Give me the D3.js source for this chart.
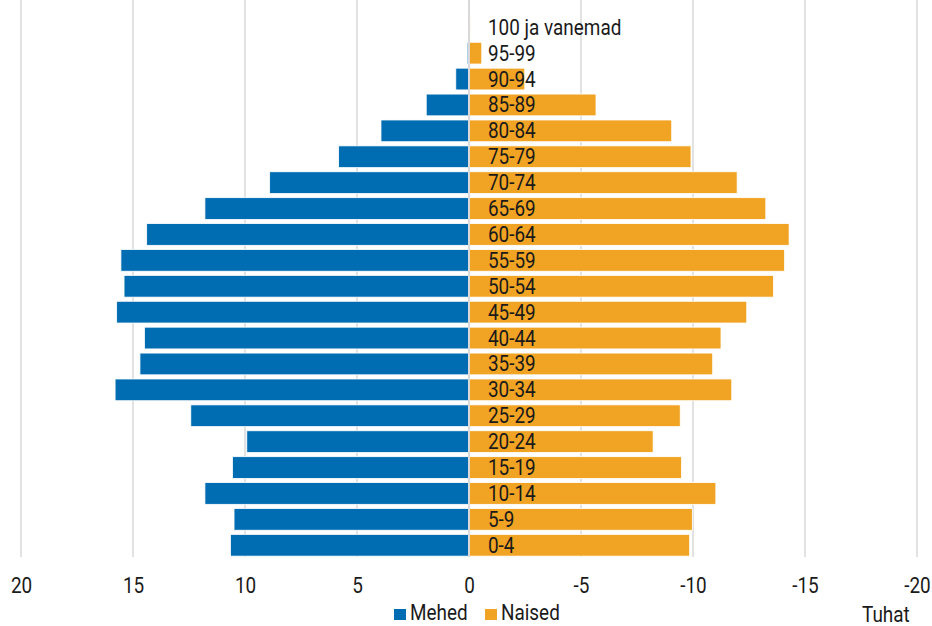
<!DOCTYPE html>
<html>

<head>
    <script src="https://d3js.org/d3.v7.min.js"></script>
    <style>
        body { margin: 0; background: #fff; }
        text { font-family: Roboto, "Noto Sans", sans-serif; fill: #1a1a1a; }
    </style>
</head>

<body>
    <svg id="pyramid" width="932" height="626"></svg>

    <script>
        // vanuserühmad, alt üles
        const ageGroups = ["0-4", "5-9", "10-14", "15-19", "20-24", "25-29", "30-34", "35-39", "40-44",
            "45-49", "50-54", "55-59", "60-64", "65-69", "70-74", "75-79", "80-84", "85-89", "90-94",
            "95-99", "100 ja vanemad"];
        // tuhandetes
        const men = [10.65, 10.49, 11.79, 10.56, 9.92, 12.42, 15.80, 14.69, 14.49,
            15.73, 15.40, 15.54, 14.39, 11.79, 8.90, 5.82, 3.93, 1.91, 0.59,
            0.08, 0.02];
        const women = [9.85, 9.97, 11.02, 9.49, 8.22, 9.43, 11.73, 10.88, 11.25,
            12.40, 13.59, 14.09, 14.29, 13.25, 11.97, 9.91, 9.05, 5.67, 2.49,
            0.57, 0.05];
        const xTicks = [20, 15, 10, 5, 0, -5, -10, -15, -20];

        const blue = "#006db3";
        const orange = "#f1a323";
        const squeeze = 0.86;   // kitsam kiri

        const svg = d3.select("#pyramid");

        const x = d3.scaleLinear().domain([20, -20]).range([21, 917]);
        const y = d3.scaleBand().domain(ageGroups.slice().reverse())
            .range([14.3, 558.2])
            .paddingInner(0.16)
            .paddingOuter(0.08);

        // ruudustik
        svg.append("g").selectAll("line").data(xTicks)
            .join("line")
            .attr("x1", d => x(d)).attr("x2", d => x(d))
            .attr("y1", 0).attr("y2", 557)
            .attr("stroke", "#d9d9d9")
            .attr("stroke-width", 1.5);

        const rows = ageGroups.map((g, i) => ({ group: g, men: men[i], women: women[i] }));

        svg.append("g").selectAll("rect").data(rows)
            .join("rect")
            .attr("x", d => x(d.men))
            .attr("y", d => y(d.group))
            .attr("width", d => x(0) - x(d.men))
            .attr("height", y.bandwidth())
            .attr("fill", blue)
            .attr("stroke", "#fff")
            .attr("stroke-width", 0.8);

        svg.append("g").selectAll("rect").data(rows)
            .join("rect")
            .attr("x", x(0))
            .attr("y", d => y(d.group))
            .attr("width", d => x(-d.women) - x(0))
            .attr("height", y.bandwidth())
            .attr("fill", orange)
            .attr("stroke", "#fff")
            .attr("stroke-width", 0.8);

        svg.append("line")
            .attr("x1", x(0)).attr("x2", x(0))
            .attr("y1", 0).attr("y2", 557)
            .attr("stroke", "#d9d9d9")
            .attr("stroke-width", 2);

        // vanuserühmade sildid
        svg.append("g").selectAll("g").data(rows)
            .join("g")
            .attr("transform", d => `translate(${x(0) + 19},${y(d.group) + y.bandwidth() / 2 + 7.5})`)
            .append("text")
            .attr("transform", `scale(${squeeze},1)`)
            .attr("font-size", 22)
            .text(d => d.group);

        // x-telg
        const bottomAxis = d3.axisBottom(x).tickValues(xTicks).tickSize(0).tickPadding(0)
            .tickFormat(d => String(d));
        const axisG = svg.append("g")
            .attr("transform", "translate(0,593)")
            .call(bottomAxis);
        axisG.select(".domain").remove();
        axisG.selectAll("text")
            .attr("dy", 0)
            .attr("y", 0)
            .attr("font-size", 22)
            .attr("font-family", "Roboto")
            .attr("fill", "#1a1a1a")
            .attr("transform", `scale(${squeeze},1)`);

        // legend
        const legend = [{ name: "Mehed", color: blue, x: 394 }, { name: "Naised", color: orange, x: 485 }];
        const lg = svg.append("g").selectAll("g").data(legend)
            .join("g")
            .attr("transform", d => `translate(${d.x},609)`);
        lg.append("rect")
            .attr("width", 12).attr("height", 11)
            .attr("fill", d => d.color);
        lg.append("g")
            .attr("transform", "translate(16,11)")
            .append("text")
            .attr("transform", `scale(${squeeze},1)`)
            .attr("font-size", 22)
            .text(d => d.name);

        svg.append("g")
            .attr("transform", "translate(862,622)")
            .append("text")
            .attr("transform", `scale(${squeeze},1)`)
            .attr("font-size", 22)
            .text("Tuhat");
    </script>

</body>

</html>
